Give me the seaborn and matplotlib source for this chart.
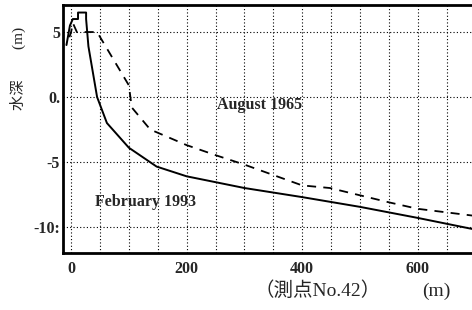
import matplotlib
matplotlib.use("Agg")
import matplotlib.pyplot as plt
import seaborn as sns
import pandas as pd
from matplotlib.ticker import MultipleLocator

# Data
feb1993_x = [-8, -2, 3, 12, 12, 26, 26, 30, 45, 62, 100, 148, 200, 300, 400, 500, 600, 700]
feb1993_y = [4.0, 5.5, 6.0, 6.0, 6.5, 6.5, 6.0, 3.9, 0.0, -2.0, -3.9, -5.35, -6.1, -7.0, -7.7, -8.45, -9.3, -10.2]
aug1965_x = [-3, 0, 3, 10, 45, 100, 105, 137, 200, 252, 300, 400, 448, 550, 600, 700]
aug1965_y = [4.6, 5.0, 5.7, 5.0, 5.0, 0.9, -0.8, -2.5, -3.7, -4.5, -5.2, -6.8, -7.0, -8.1, -8.6, -9.15]
xtick_vals = [0, 200, 400, 600]
ytick_vals = [5, 0, -5, -10]
ytick_labels = ["5", "0.", "-5", "-10:"]

df = pd.concat([
    pd.DataFrame({"x": feb1993_x, "y": feb1993_y, "series": "February 1993"}),
    pd.DataFrame({"x": aug1965_x, "y": aug1965_y, "series": "August 1965"}),
], ignore_index=True)

sns.set_style("white")
serif = ["Liberation Serif", "Noto Sans CJK JP"]
plt.rcParams["font.family"] = serif

fig = plt.figure(figsize=(4.72, 3.10), dpi=100)
ax = fig.add_axes([63/472, 1 - 253/310, 1 - 63/472, 248/310])

sns.lineplot(data=df[df.series == "February 1993"], x="x", y="y", sort=False,
             estimator=None, color="black", linewidth=1.4, ax=ax, legend=False)
sns.lineplot(data=df[df.series == "August 1965"], x="x", y="y", sort=False,
             estimator=None, color="black", linewidth=1.3, ax=ax, legend=False,
             linestyle=(0, (5, 4)))

ax.set_xlim(-14, 694)
ax.set_ylim(-12.0, 7.08)
ax.set_xticks(xtick_vals)
ax.set_xticklabels([str(v) for v in xtick_vals], fontweight="bold", fontsize=11.5)
ax.xaxis.set_minor_locator(MultipleLocator(50))
ax.set_yticks(ytick_vals)
ax.set_yticklabels(ytick_labels, fontweight="bold", fontsize=11.5)
ax.tick_params(axis="both", which="both", length=0)
ax.tick_params(axis="x", pad=6)
ax.tick_params(axis="y", pad=2)
ax.grid(True, which="both", axis="x", color="black", linestyle=(0, (1, 2)), linewidth=0.8)
ax.grid(True, which="major", axis="y", color="black", linestyle=(0, (1, 2)), linewidth=0.8)
ax.set_xlabel("")
ax.set_ylabel("")

for side in ["left", "top", "bottom"]:
    ax.spines[side].set_linewidth(2.0)
    ax.spines[side].set_color("black")
ax.spines["right"].set_visible(False)

ax.text(327, -0.6, "August 1965", fontsize=11.5, fontweight="bold", ha="center", va="center")
ax.text(128, -8.1, "February 1993", fontsize=11.5, fontweight="bold", ha="center", va="center")

fig.text(18/472, 1 - 68/310, "水深\u3000\u3000(m)", rotation=90, ha="center", va="center",
         fontsize=11, family=serif)
fig.text(318/472, 1 - 296/310, "（測点No.42）", ha="center", va="baseline", fontsize=14, family=serif)
fig.text(436/472, 1 - 296/310, "(m)", ha="center", va="baseline", fontsize=14, family=serif)

fig.savefig("out.png", dpi=100)
